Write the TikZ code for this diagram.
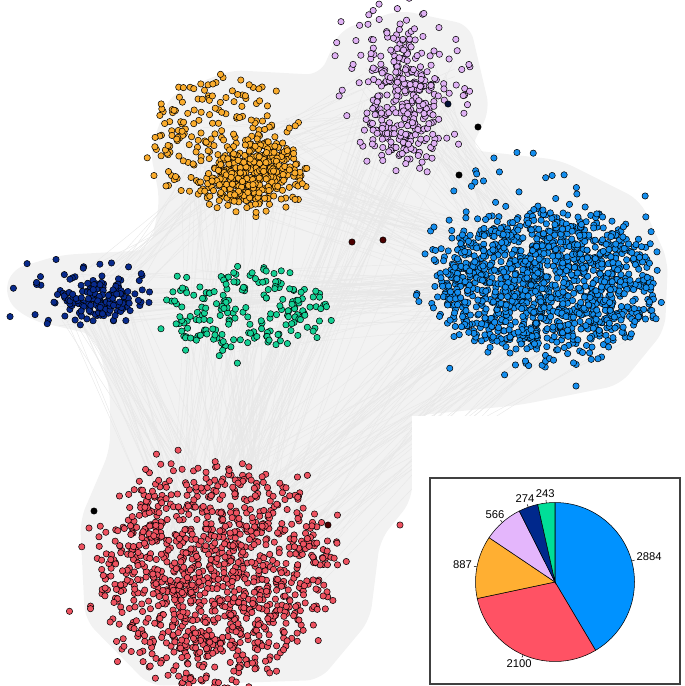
\documentclass[tikz,border=0pt]{standalone}
\usepackage{fontspec}
\setmainfont{Liberation Sans}
\definecolor{cblue}{RGB}{20,142,238}
\definecolor{cred}{RGB}{238,82,96}
\definecolor{corange}{RGB}{250,172,45}
\definecolor{clilac}{RGB}{224,178,245}
\definecolor{cnavy}{RGB}{8,42,140}
\definecolor{cgreen}{RGB}{20,208,148}
\definecolor{pblue}{RGB}{0,146,255}
\definecolor{pred}{RGB}{255,82,100}
\definecolor{porange}{RGB}{255,175,50}
\definecolor{plilac}{RGB}{228,182,252}
\definecolor{pnavy}{RGB}{0,40,140}
\definecolor{pgreen}{RGB}{0,222,152}
\definecolor{bggray}{RGB}{242,242,242}
\definecolor{edgegray}{RGB}{232,232,232}
\tikzstyle{dot} = [draw=black, line width=0.3pt]
\tikzstyle{edge} = [edgegray, line width=0.25pt]
\tikzstyle{slice} = [draw=black, line width=0.3pt]
\tikzstyle{tick} = [black, line width=0.3pt]
\tikzstyle{lab} = [inner sep=0.5pt, font=\fontsize{6.4}{7}\selectfont]
\newcommand\drawcluster[8]{%
  \foreach \i in {1,...,#1}{
    \pgfmathsetmacro\ang{360*rnd}
    \pgfmathsetmacro\rr{(rnd+0.0001)^#6}
    \pgfmathsetmacro\px{#2+#4*\rr*cos(\ang)+#8*(rand+rand+rand)}
    \pgfmathsetmacro\py{#3+#5*\rr*sin(\ang)+#8*(rand+rand+rand)}
    \fill[#7, dot] (\px,\py) circle[radius=1.8pt];
  }}
\newcommand\edgebundle[6]{%
  \foreach \i in {1,...,#1}{
    \draw[edge] ({#2+#6*rand},{#3+0.7*#6*rand}) -- ({#4+#6*rand},{#5+0.7*#6*rand});
  }}

\begin{document}
\begin{tikzpicture}[x=0.02cm, y=-0.02cm]
  \useasboundingbox (0,0) rectangle (685,686);
  \pgfmathsetseed{7}
  \fill[bggray, rounded corners=8pt] (150,150) -- (170,95) -- (230,70) -- (320,75) -- (340,30) -- (400,10)
    -- (470,25) -- (490,110) -- (470,150) -- (560,160) -- (640,200) -- (668,260)
    -- (665,330) -- (620,385) -- (520,405) -- (412,416) -- (412,500) -- (380,540)
    -- (370,620) -- (320,680) -- (150,686) -- (85,620) -- (80,520) -- (110,450)
    -- (110,390) -- (95,335) -- (30,320) -- (5,300) -- (10,270) -- (60,255)
    -- (150,250) -- (160,200) -- cycle;
  \edgebundle{40}{240}{160}{545}{285}{60}
  \edgebundle{40}{240}{160}{215}{570}{60}
  \edgebundle{40}{405}{95}{545}{285}{50}
  \edgebundle{40}{405}{95}{215}{570}{50}
  \edgebundle{40}{95}{300}{215}{570}{40}
  \edgebundle{30}{95}{300}{545}{285}{40}
  \edgebundle{40}{245}{310}{215}{570}{60}
  \edgebundle{30}{245}{310}{545}{285}{60}
  \edgebundle{60}{545}{285}{215}{570}{90}
  \edgebundle{20}{240}{160}{405}{95}{50}
  \edgebundle{20}{95}{300}{240}{160}{40}
  \drawcluster{120}{540}{272}{130}{115}{0.6}{cblue}{8}
  \drawcluster{1200}{545}{283}{108}{68}{0.5}{cblue}{10}
  \drawcluster{90}{210}{565}{150}{120}{0.6}{cred}{8}
  \drawcluster{1050}{215}{575}{110}{103}{0.55}{cred}{12}
  \drawcluster{200}{222}{140}{75}{62}{0.5}{corange}{8}
  \drawcluster{380}{255}{175}{45}{30}{0.55}{corange}{8}
  \drawcluster{110}{400}{85}{70}{80}{0.55}{clilac}{6}
  \drawcluster{250}{405}{100}{30}{65}{0.55}{clilac}{10}
  \drawcluster{40}{80}{290}{80}{40}{0.5}{cnavy}{4}
  \drawcluster{130}{97}{300}{38}{16}{0.6}{cnavy}{6}
  \drawcluster{200}{245}{310}{82}{42}{0.5}{cgreen}{8}
  \fill[cnavy!40!black, dot] (448,104) circle[radius=1.8pt];
  \fill[black, dot] (478,127) circle[radius=1.8pt];
  \fill[black, dot] (459,175) circle[radius=1.8pt];
  \fill[red!30!black, dot] (352,242) circle[radius=1.8pt];
  \fill[red!30!black, dot] (383,240) circle[radius=1.8pt];
  \fill[black, dot] (94,511) circle[radius=1.8pt];
  \fill[red!30!black, dot] (328,525) circle[radius=1.8pt];
  \fill[cred, dot] (400,525) circle[radius=1.8pt];
  \fill[white] (412,416) rectangle (685,686);
  \draw[line width=0.6pt, black!75] (430,478) rectangle (680,684);
  \begin{scope}[shift={(555,582)}, x=1cm, y=1cm]
    \fill[pblue, slice] (0,0) -- (90:1.59) arc[start angle=90, end angle=-59.30, radius=1.59] -- cycle;
    \fill[pred, slice] (0,0) -- (-59.30:1.59) arc[start angle=-59.30, end angle=-168.02, radius=1.59] -- cycle;
    \fill[porange, slice] (0,0) -- (-168.02:1.59) arc[start angle=-168.02, end angle=-213.94, radius=1.59] -- cycle;
    \fill[plilac, slice] (0,0) -- (-213.94:1.59) arc[start angle=-213.94, end angle=-243.24, radius=1.59] -- cycle;
    \fill[pnavy, slice] (0,0) -- (-243.24:1.59) arc[start angle=-243.24, end angle=-257.42, radius=1.59] -- cycle;
    \fill[pgreen, slice] (0,0) -- (-257.42:1.59) arc[start angle=-257.42, end angle=-270, radius=1.59] -- cycle;
    \coordinate (A1) at (15.35:1.59);
    \coordinate (B1) at (15.35:1.65);
    \coordinate (A2) at (-113.66:1.59);
    \coordinate (B2) at (-113.66:1.65);
    \coordinate (A3) at (-190.98:1.59);
    \coordinate (B3) at (-190.98:1.65);
    \coordinate (A4) at (-228.59:1.59);
    \coordinate (B4) at (-228.59:1.65);
    \coordinate (A5) at (-250.33:1.59);
    \coordinate (B5) at (-250.33:1.65);
    \coordinate (A6) at (-263.71:1.59);
    \coordinate (B6) at (-263.71:1.65);
    \node[lab, anchor=195.35] (L1) at (15.35:1.67) {2884};
    \node[lab, anchor=66.34] (L2) at (-113.66:1.67) {2100};
    \node[lab, anchor=-10.98] (L3) at (-190.98:1.67) {887};
    \node[lab, anchor=-48.59] (L4) at (-228.59:1.67) {566};
    \node[lab, anchor=-70.33] (L5) at (-250.33:1.67) {274};
    \node[lab, anchor=-83.71] (L6) at (-263.71:1.67) {243};
    \draw[tick] (A1) -- (B1);
    \draw[tick] (A2) -- (B2);
    \draw[tick] (A3) -- (B3);
    \draw[tick] (A4) -- (B4);
    \draw[tick] (A5) -- (B5);
    \draw[tick] (A6) -- (B6);
  \end{scope}
\end{tikzpicture}
\end{document}
